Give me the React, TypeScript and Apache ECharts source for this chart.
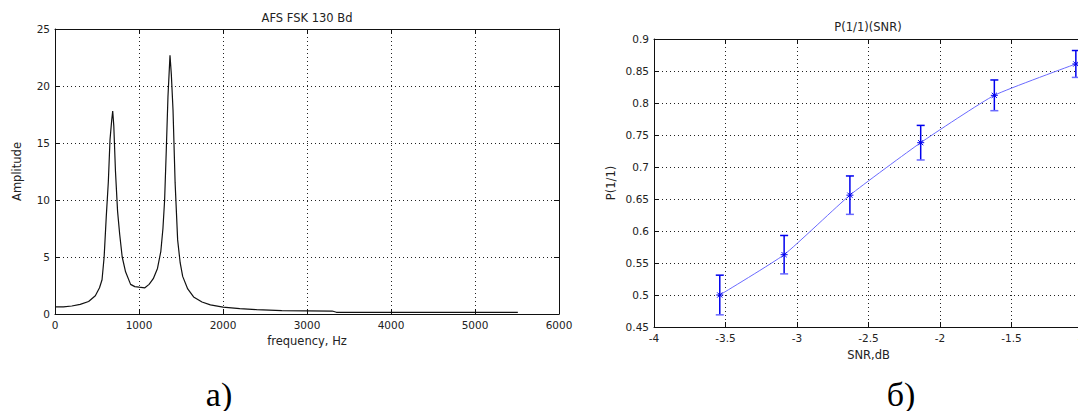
import React, { useEffect, useRef } from "react";
import * as echarts from "echarts";

// ---- Chart (a): spectrum ----
const freqHz = [0, 100, 200, 300, 400, 480, 530, 560, 585, 610, 635, 655, 675, 687, 700, 720, 745, 770, 800, 840, 900, 950, 1000, 1070, 1120, 1170, 1220, 1260, 1285, 1305, 1325, 1345, 1369, 1385, 1405, 1430, 1460, 1490, 1520, 1580, 1650, 1750, 1850, 2000, 2200, 2400, 2700, 3000, 3300, 3350, 4000, 5000, 5510];
const amplitude = [0.62, 0.63, 0.7, 0.85, 1.1, 1.6, 2.3, 3.0, 5.0, 8.5, 11.6, 15.3, 17.0, 17.8, 16.5, 12.5, 9.0, 7.0, 5.0, 3.7, 2.6, 2.4, 2.35, 2.3, 2.6, 3.1, 4.0, 5.5, 7.5, 10.0, 14.4, 19.1, 22.7, 21.0, 17.9, 11.5, 6.5, 4.5, 3.3, 2.2, 1.5, 1.05, 0.8, 0.6, 0.48, 0.38, 0.3, 0.28, 0.26, 0.15, 0.15, 0.15, 0.15];
const freqTicks = { min: 0, max: 6000, interval: 1000 };
const ampTicks = { min: 0, max: 25, interval: 5 };

// ---- Chart (б): P(1/1)(SNR) ----
const snrDb = [-3.54, -3.09, -2.63, -2.135, -1.62, -1.05];
const probability = [0.5, 0.563, 0.656, 0.738, 0.812, 0.861];
const errHalf = [0.031, 0.03, 0.03, 0.027, 0.024, 0.021];
const snrTicks = { min: -4, max: -1, interval: 0.5 };
const probTicks = { min: 0.45, max: 0.9, interval: 0.05 };

const FONT = "DejaVu Sans";
const fmt = (v: number) => String(Math.round(v * 1000) / 1000);
const labelStyle = { color: "#222", fontFamily: FONT, fontSize: 10.5, formatter: fmt };
const gridDots = { show: true, lineStyle: { color: "#222", type: [1, 3], width: 1 } };

function mainX(grid: number, t: any, name: string, nameGap: number) {
  return {
    type: "value", gridIndex: grid, position: "bottom", ...t,
    name, nameLocation: "middle", nameGap,
    nameTextStyle: { color: "#222", fontFamily: FONT, fontSize: 11.5 },
    axisLine: { show: true, onZero: false, lineStyle: { color: "#111", width: 1 } },
    axisTick: { show: true, inside: true, length: 5, lineStyle: { color: "#111" } },
    axisLabel: { ...labelStyle, margin: 5 },
    splitLine: gridDots,
  };
}
function mainY(grid: number, t: any, name: string, nameGap: number) {
  return {
    type: "value", gridIndex: grid, position: "left", ...t,
    name, nameLocation: "middle", nameGap, nameRotate: 90,
    nameTextStyle: { color: "#222", fontFamily: FONT, fontSize: 11.5 },
    axisLine: { show: true, onZero: false, lineStyle: { color: "#111", width: 1 } },
    axisTick: { show: true, inside: true, length: 5, lineStyle: { color: "#111" } },
    axisLabel: { ...labelStyle, margin: 5 },
    splitLine: gridDots,
  };
}
function sideAxis(grid: number, t: any, position: string) {
  return {
    type: "value", gridIndex: grid, position, ...t,
    axisLine: { show: true, onZero: false, lineStyle: { color: "#111", width: 1 } },
    axisTick: { show: true, inside: true, length: 5, lineStyle: { color: "#111" } },
    axisLabel: { show: false },
    splitLine: { show: false },
  };
}

export default function App() {
  const ref = useRef<HTMLDivElement>(null);
  useEffect(() => {
    document.body.style.margin = "0";
    const chart = echarts.init(ref.current!, null, { renderer: "svg" });
    const spectrum = freqHz.map((f, i) => [f, amplitude[i]]);
    const curve = snrDb.map((s, i) => [s, probability[i]]);
    const bars = snrDb.map((s, i) => [s, probability[i], probability[i] - errHalf[i], probability[i] + errHalf[i]]);
    chart.setOption({
      animation: false,
      backgroundColor: "#fff",
      grid: [
        { left: 55, top: 29, width: 504, height: 285 },
        { left: 654, top: 39, width: 429, height: 288 },
      ],
      xAxis: [
        mainX(0, freqTicks, "frequency, Hz", 20),
        sideAxis(0, freqTicks, "top"),
        mainX(1, snrTicks, "SNR,dB", 22),
        sideAxis(1, snrTicks, "top"),
      ],
      yAxis: [
        mainY(0, ampTicks, "Amplitude", 32),
        sideAxis(0, ampTicks, "right"),
        mainY(1, probTicks, "P(1/1)", 37),
        sideAxis(1, probTicks, "right"),
      ],
      series: [
        {
          type: "line", xAxisIndex: 0, yAxisIndex: 0, data: spectrum,
          showSymbol: false, lineStyle: { color: "#111", width: 1.2 }, z: 5,
        },
        {
          type: "line", xAxisIndex: 2, yAxisIndex: 2, data: curve, smooth: 0.15,
          showSymbol: false, lineStyle: { color: "#6a6aff", width: 1 }, z: 5,
        },
        {
          type: "custom", xAxisIndex: 2, yAxisIndex: 2, data: bars, z: 6,
          renderItem: (params: any, api: any) => {
            const x = api.value(0);
            const c = api.coord([x, api.value(1)]);
            const lo = api.coord([x, api.value(2)]);
            const hi = api.coord([x, api.value(3)]);
            const st = { stroke: "#0000ee", lineWidth: 1.5 };
            const w = 4;
            const s = 3.5;
            const d = 2.6;
            return {
              type: "group",
              children: [
                { type: "line", shape: { x1: hi[0], y1: hi[1], x2: lo[0], y2: lo[1] }, style: st },
                { type: "line", shape: { x1: hi[0] - w, y1: hi[1], x2: hi[0] + w, y2: hi[1] }, style: st },
                { type: "line", shape: { x1: lo[0] - w, y1: lo[1], x2: lo[0] + w, y2: lo[1] }, style: { stroke: "#6a6aff", lineWidth: 1.5 } },
                { type: "line", shape: { x1: c[0] - s, y1: c[1], x2: c[0] + s, y2: c[1] }, style: { stroke: "#0000ee", lineWidth: 1 } },
                { type: "line", shape: { x1: c[0] - d, y1: c[1] - d, x2: c[0] + d, y2: c[1] + d }, style: { stroke: "#0000ee", lineWidth: 1 } },
                { type: "line", shape: { x1: c[0] - d, y1: c[1] + d, x2: c[0] + d, y2: c[1] - d }, style: { stroke: "#0000ee", lineWidth: 1 } },
              ],
            };
          },
        },
      ],
      graphic: [
        { type: "text", x: 307, y: 18, style: { text: "AFS FSK 130 Bd", fontFamily: FONT, fontSize: 11.5, fill: "#222", textAlign: "center", textVerticalAlign: "middle" } },
        { type: "text", x: 868, y: 27, style: { text: "P(1/1)(SNR)", fontFamily: FONT, fontSize: 11.5, fill: "#222", textAlign: "center", textVerticalAlign: "middle" } },
        { type: "text", x: 219, y: 394, style: { text: "а)", fontFamily: "Liberation Serif", fontSize: 34, fill: "#000", textAlign: "center", textVerticalAlign: "middle" } },
        { type: "text", x: 901, y: 394, style: { text: "б)", fontFamily: "Liberation Serif", fontSize: 34, fill: "#000", textAlign: "center", textVerticalAlign: "middle" } },
      ],
    });
    return () => chart.dispose();
  }, []);
  return (
    <div style={{ width: 1078, height: 411, overflow: "hidden", position: "relative" }}>
      <div ref={ref} style={{ width: 1110, height: 411 }} />
    </div>
  );
}
